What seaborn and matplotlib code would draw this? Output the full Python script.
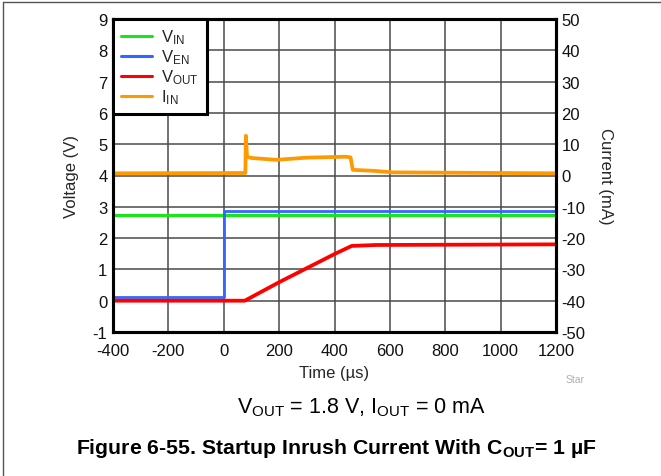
import matplotlib
matplotlib.use("Agg")
import matplotlib.pyplot as plt
from matplotlib.lines import Line2D
import seaborn as sns

# Scope trace data (time in microseconds)
t_vin = [-400, 1200]
v_in = [2.74, 2.74]

t_ven = [-400, 0, 0, 1200]
v_en = [0.12, 0.12, 2.87, 2.87]

t_vout = [-400, 76, 200, 400, 462, 550, 1200]
v_out = [0.0, 0.0, 0.59, 1.49, 1.75, 1.78, 1.80]

t_iin = [-400, 78, 80, 84, 100, 190, 300, 440, 458, 466, 540, 610, 1200]
i_in = [0.7, 0.8, 12.7, 6.0, 5.6, 5.0, 5.7, 6.0, 5.8, 1.8, 1.5, 1.0, 0.7]

x_ticks = [-400, -200, 0, 200, 400, 600, 800, 1000, 1200]
v_ticks = [-1, 0, 1, 2, 3, 4, 5, 6, 7, 8, 9]
i_ticks = [-50, -40, -30, -20, -10, 0, 10, 20, 30, 40, 50]

sns.set_theme(style="white")
plt.rcParams["font.family"] = ["Liberation Sans", "DejaVu Sans"]
plt.rcParams["mathtext.fontset"] = "custom"
plt.rcParams["mathtext.rm"] = "Liberation Sans"
plt.rcParams["mathtext.it"] = "Liberation Sans:italic"
plt.rcParams["mathtext.bf"] = "Liberation Sans:bold"

W, H = 661, 477
fig = plt.figure(figsize=(W / 100, H / 100), dpi=100)
fig.patch.set_facecolor("white")

ax_l, ax_r, ax_t, ax_b = 113, 556, 20, 333
ax = fig.add_axes([ax_l / W, 1 - ax_b / H, (ax_r - ax_l) / W, (ax_b - ax_t) / H])
ax2 = ax.twinx()

colors = {"vin": "#19e619", "ven": "#3366ff", "vout": "#ff0000", "iin": "#ff9900"}
lw = 2.3

sns.lineplot(x=t_vin, y=v_in, ax=ax, color=colors["vin"], lw=lw,
             estimator=None, sort=False)
sns.lineplot(x=t_ven, y=v_en, ax=ax, color=colors["ven"], lw=2.0,
             estimator=None, sort=False)
sns.lineplot(x=t_vout, y=v_out, ax=ax, color=colors["vout"], lw=lw + 0.4,
             estimator=None, sort=False)
sns.lineplot(x=t_iin, y=i_in, ax=ax2, color=colors["iin"], lw=lw + 0.4,
             estimator=None, sort=False)

ax.set_xlim(-400, 1200)
ax.set_ylim(-1, 9)
ax2.set_ylim(-50, 50)
ax.set_xticks(x_ticks)
ax.set_xticklabels([str(v) for v in x_ticks])
ax.set_yticks(v_ticks)
ax.set_yticklabels([str(v) for v in v_ticks])
ax2.set_yticks(i_ticks)
ax2.set_yticklabels([str(v) for v in i_ticks])

ax.grid(True, color="#4a4a4a", lw=1.1)
ax.set_axisbelow(True)
ax2.grid(False)

fs = 12
for a in (ax, ax2):
    for s in a.spines.values():
        s.set_color("black")
        s.set_linewidth(2.2)
    a.tick_params(length=0, labelsize=fs, colors="#111111", pad=4)
ax.tick_params(axis="x", pad=8)

ax.set_xlabel("Time (\u00b5s)", fontsize=fs, labelpad=5)
ax.set_ylabel("Voltage (V)", fontsize=fs, labelpad=10)
ax2.set_ylabel("Current (mA)", fontsize=fs, rotation=270, labelpad=20)

handles = [Line2D([], [], color=colors[k], lw=2.2) for k in ("vin", "ven", "vout", "iin")]
labels = [r"V$_\mathregular{IN}$", r"V$_\mathregular{EN}$",
          r"V$_\mathregular{OUT}$", r"I$_\mathregular{IN}$"]
leg = ax2.legend(handles, labels, loc="upper left", bbox_to_anchor=(0, 1),
                 borderaxespad=0, fancybox=False, framealpha=1,
                 edgecolor="black", fontsize=12, handlelength=1.85,
                 handletextpad=0.55, labelspacing=0.08, borderpad=0.5)
leg.get_frame().set_linewidth(2.2)

fig.text(575 / W, 1 - 380 / H, "Star", color="#b0b0b0", fontsize=7.5,
         ha="center", va="center")
fig.text(361 / W, 1 - 408 / H,
         r"V$_\mathregular{OUT}$ = 1.8 V, I$_\mathregular{OUT}$ = 0 mA",
         fontsize=15.5, ha="center", va="center", color="black")
fig.text(336 / W, 1 - 448 / H,
         "Figure 6-55. Startup Inrush Current With C$_\\mathbf{OUT}$= 1 \u00b5F",
         fontsize=15.3, fontweight="bold", ha="center", va="center", color="black")

# page frame lines
fig.add_artist(Line2D([3 / W, 1], [1 - 3 / H, 1 - 3 / H], color="#555555", lw=1.0))
fig.add_artist(Line2D([3 / W, 3 / W], [0, 1 - 3 / H], color="#555555", lw=1.0))

fig.savefig("out.png", dpi=100)
